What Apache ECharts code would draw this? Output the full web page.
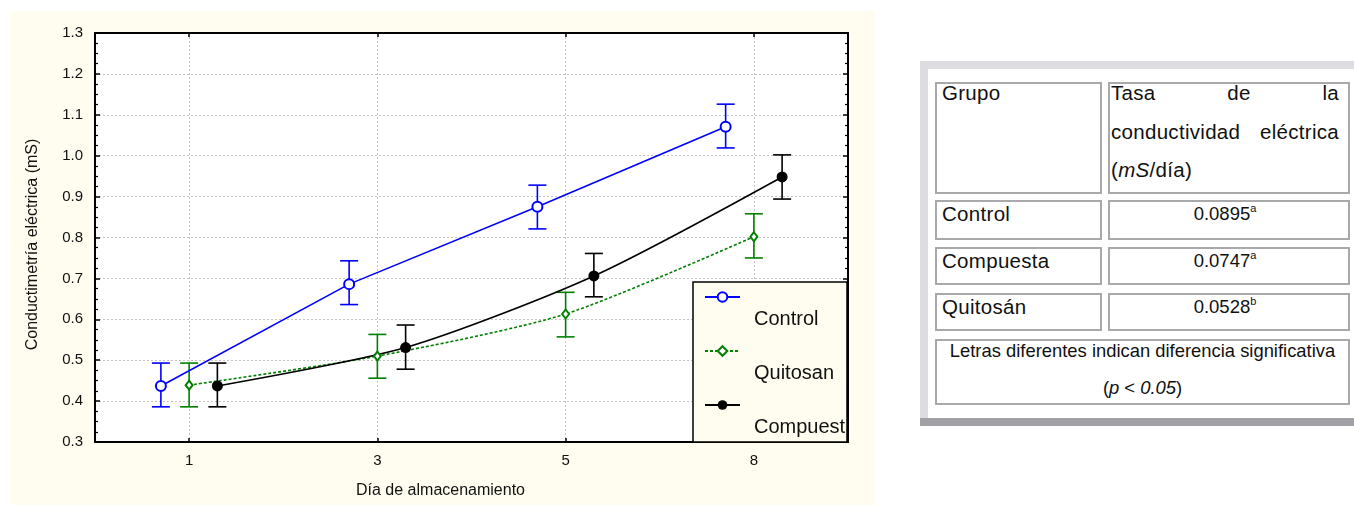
<!DOCTYPE html>
<html>
<head>
<meta charset="utf-8">
<title>Conductimetría eléctrica</title>
<script src="https://cdn.jsdelivr.net/npm/echarts@6/dist/echarts.min.js"></script>
<style>
  html, body { margin: 0; padding: 0; background: #fff; width: 1354px; height: 505px; overflow: hidden; }
  body { font-family: 'Liberation Sans', Arial, Helvetica, sans-serif; color: #111; position: relative; }
  #paper { position: absolute; left: 10px; top: 11px; width: 865px; height: 494px; background: #fffdf0; }
  #chart { position: absolute; left: 0; top: 0; width: 1354px; height: 505px; }
  #panel { position: absolute; left: 920px; top: 61px; width: 434px; height: 365px; background: #dcdce1; }
  #panelInner { position: absolute; left: 928px; top: 69px; width: 426px; height: 349px; background: #fff; }
  #panelShadow { position: absolute; left: 920px; top: 418px; width: 434px; height: 8px; background: #a0a0a5; }
  .cell { position: absolute; box-sizing: border-box; border: 2px solid #a9a9ab; font-size: 19px; color: #111; overflow: visible; }
  .cell .in { position: relative; }
  .word { font-size: 20.5px; letter-spacing: 0.3px; }
  .num { font-size: 18.5px; }
  .note { font-size: 18.4px; }
  .just { display: flex; justify-content: space-between; }
  sup { font-size: 11px; vertical-align: 0; position: relative; top: -8px; letter-spacing: 0; }
</style>
</head>
<body>
<div id="paper"></div>
<div id="chart"></div>
<div id="panel"></div>
<div id="panelInner"></div>
<div id="panelShadow"></div>
<div id="table"></div>
<script>
// Storage days on the category axis
const days = ['1', '3', '5', '8'];
const seriesNames = ['Control', 'Quitosan', 'Compuest'];

// Mean conductivity (mS) and error-bar limits per treatment
const controlMean = [0.437, 0.686, 0.875, 1.071];
const controlLow  = [0.386, 0.636, 0.821, 1.019];
const controlHigh = [0.493, 0.743, 0.928, 1.126];

const quitosanMean = [0.439, 0.510, 0.613, 0.802];
const quitosanLow  = [0.386, 0.456, 0.557, 0.750];
const quitosanHigh = [0.493, 0.563, 0.666, 0.858];

const compuestMean = [0.437, 0.531, 0.706, 0.948];
const compuestLow  = [0.386, 0.478, 0.655, 0.894];
const compuestHigh = [0.493, 0.586, 0.761, 1.002];

// Rate table
const tableGroups  = ['Control', 'Compuesta', 'Quitosán'];
const tableRates   = ['0.0895', '0.0747', '0.0528'];
const tableLetters = ['a', 'a', 'b'];

const FONT = "'Liberation Sans', Arial, Helvetica, sans-serif";
const colors = ['#0000ff', '#008000', '#000000'];
const offsets = [-0.15, 0, 0.15];   // side-by-side placement within each day

function points(mean, k) { return mean.map((v, i) => [i + offsets[k], v]); }
function ranges(lo, hi, k) { return lo.map((v, i) => [i + offsets[k], v, hi[i]]); }

function errorBars(lo, hi, k) {
  return {
    type: 'custom',
    xAxisIndex: 2,
    yAxisIndex: 0,
    z: 3,
    silent: true,
    data: ranges(lo, hi, k),
    renderItem: function (params, api) {
      const x = api.value(0);
      const a = api.coord([x, api.value(1)]);
      const b = api.coord([x, api.value(2)]);
      const w = 9;
      const st = { stroke: colors[k], lineWidth: 1.6 };
      return {
        type: 'group',
        children: [
          { type: 'line', shape: { x1: a[0], y1: a[1], x2: b[0], y2: b[1] }, style: st },
          { type: 'line', shape: { x1: a[0] - w, y1: a[1], x2: a[0] + w, y2: a[1] }, style: st },
          { type: 'line', shape: { x1: b[0] - w, y1: b[1], x2: b[0] + w, y2: b[1] }, style: st }
        ]
      };
    }
  };
}

const frame = { show: true, onZero: false, lineStyle: { color: '#000', width: 2 } };
const gridLine = { color: '#c4c4c4', width: 1, type: [2, 2] };

const option = {
  animation: false,
  backgroundColor: 'transparent',
  textStyle: { fontFamily: FONT },
  grid: { left: 95, top: 33, width: 753, height: 409, show: true, backgroundColor: '#ffffff', borderWidth: 0 },
  graphic: [
    {
      type: 'rect', z: 3, silent: true,
      shape: { x: 693, y: 282, width: 154, height: 160 },
      style: { fill: '#fffdf0', stroke: '#000', lineWidth: 1.5 }
    }
  ],
  legend: {
    data: seriesNames,
    orient: 'vertical',
    left: 704,
    top: 287,
    padding: 0,
    itemGap: 12,
    itemWidth: 35,
    itemHeight: 12,
    selectedMode: false,
    z: 5,
    formatter: function (n) { return '{s| }\n{t|' + n + '}'; },
    textStyle: {
      padding: [0, 0, 0, 9],
      rich: {
        s: { lineHeight: 44, fontSize: 10 },
        t: { lineHeight: 10, fontSize: 20, color: '#111', fontFamily: FONT }
      }
    }
  },
  xAxis: [
    {
      type: 'category', data: days, position: 'bottom', boundaryGap: true,
      axisLine: frame,
      axisTick: { show: true, inside: true, alignWithLabel: true, length: 4, lineStyle: { color: '#000', width: 1.5 } },
      axisLabel: { color: '#111', fontSize: 15, margin: 11, fontFamily: FONT },
      splitLine: { show: true, alignWithLabel: true, lineStyle: gridLine },
      name: 'Día de almacenamiento', nameLocation: 'middle', nameGap: 41,
      nameTextStyle: { color: '#111', fontSize: 16, fontFamily: FONT, padding: [0, 62, 0, 0] }
    },
    {
      type: 'category', data: days, position: 'top', boundaryGap: true,
      axisLine: frame,
      axisTick: { show: true, inside: true, alignWithLabel: true, length: 4, lineStyle: { color: '#000', width: 1.5 } },
      axisLabel: { show: false },
      splitLine: { show: false }
    },
    { type: 'value', min: -0.5, max: 3.5, show: false }
  ],
  yAxis: [
    {
      type: 'value', min: 0.3, max: 1.3, interval: 0.1, position: 'left',
      axisLine: frame,
      axisTick: { show: true, inside: true, length: 5, lineStyle: { color: '#000', width: 1.5 } },
      minorTick: { show: true, splitNumber: 4, length: 3, lineStyle: { color: '#000', width: 1.2 } },
      axisLabel: { color: '#111', fontSize: 15, margin: 12, fontFamily: FONT, formatter: v => v.toFixed(1) },
      splitLine: { show: true, showMinLine: false, showMaxLine: false, lineStyle: gridLine },
      name: 'Conductimetría eléctrica (mS)', nameLocation: 'middle', nameGap: 54, nameRotate: 90,
      nameTextStyle: { color: '#111', fontSize: 16, fontFamily: FONT, padding: [0, 14, 0, 0] }
    },
    {
      type: 'value', min: 0.3, max: 1.3, interval: 0.1, position: 'right',
      axisLine: frame,
      axisTick: { show: true, inside: true, length: 5, lineStyle: { color: '#000', width: 1.5 } },
      minorTick: { show: true, splitNumber: 4, length: 3, lineStyle: { color: '#000', width: 1.2 } },
      axisLabel: { show: false },
      splitLine: { show: false }
    }
  ],
  series: [
    {
      type: 'line', name: seriesNames[0], xAxisIndex: 2, yAxisIndex: 0, z: 4,
      data: points(controlMean, 0),
      symbol: 'emptyCircle', symbolSize: 10,
      itemStyle: { color: colors[0], borderColor: colors[0], borderWidth: 1.6 },
      lineStyle: { color: colors[0], width: 1.6 }
    },
    {
      type: 'line', name: seriesNames[1], xAxisIndex: 2, yAxisIndex: 0, z: 4,
      data: points(quitosanMean, 1), smooth: 0.25,
      symbol: 'emptyDiamond', symbolSize: [7, 9],
      itemStyle: { color: colors[1], borderColor: colors[1], borderWidth: 1.4 },
      lineStyle: { color: colors[1], width: 1.6, type: [3, 2] }
    },
    {
      type: 'line', name: seriesNames[2], xAxisIndex: 2, yAxisIndex: 0, z: 4,
      data: points(compuestMean, 2), smooth: 0.25,
      symbol: 'circle', symbolSize: 11,
      itemStyle: { color: colors[2] },
      lineStyle: { color: colors[2], width: 1.6 }
    },
    errorBars(controlLow, controlHigh, 0),
    errorBars(quitosanLow, quitosanHigh, 1),
    errorBars(compuestLow, compuestHigh, 2)
  ]
};

echarts.init(document.getElementById('chart'), null, { renderer: 'canvas' }).setOption(option);

// Rate table beside the chart
(function buildTable() {
  const host = document.getElementById('table');
  const cells = [];
  function cell(x, y, w, h, html) {
    cells.push('<div class="cell" style="left:' + x + 'px;top:' + y + 'px;width:' + w + 'px;height:' + h + 'px;">' + html + '</div>');
  }
  cell(935, 82, 167, 112, '<div class="in word" style="top:-10px;line-height:38.5px;padding-left:5px;">Grupo</div>');
  cell(1108, 82, 242, 112,
    '<div class="in word" style="top:-10px;line-height:38.5px;padding-left:1px;padding-right:9px;">' +
    '<div class="just"><span>Tasa</span><span>de</span><span>la</span></div>' +
    '<div class="just"><span>conductividad</span><span>eléctrica</span></div>' +
    '<div>(<i>mS</i>/día)</div></div>');
  const rowTops = [200, 247, 293];
  const rowHeights = [40, 38, 38];
  tableGroups.forEach(function (g, i) {
    cell(935, rowTops[i], 167, rowHeights[i], '<div class="in word" style="line-height:24px;padding-left:5px;">' + g + '</div>');
    cell(1108, rowTops[i], 242, rowHeights[i], '<div class="in num" style="line-height:24px;text-align:center;padding-right:8px;">' + tableRates[i] + '<sup>' + tableLetters[i] + '</sup></div>');
  });
  cell(935, 339, 415, 66,
    '<div class="in note" style="top:-9px;line-height:37px;text-align:center;">Letras diferentes indican diferencia significativa<br>(<i>p</i> &lt; <i>0.05</i>)</div>');
  host.innerHTML = cells.join('');
})();
</script>
</body>
</html>
